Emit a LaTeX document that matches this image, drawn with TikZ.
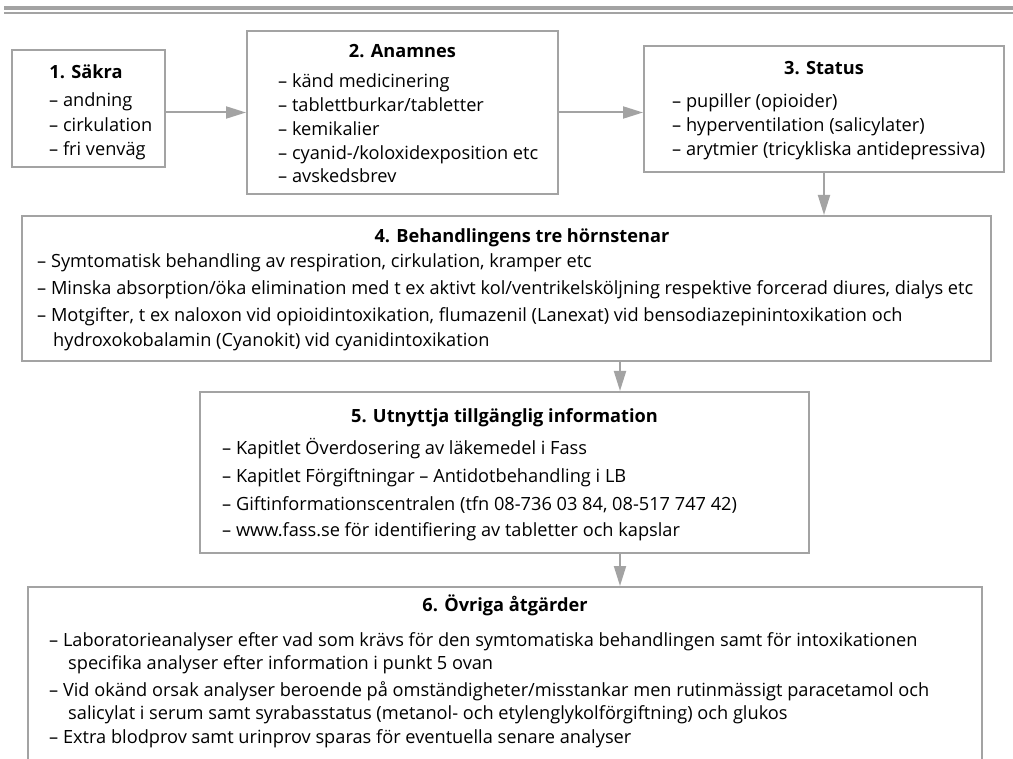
\documentclass[tikz,border=0pt]{standalone}
\usepackage{fontspec}
\setmainfont{Open Sans}
\usetikzlibrary{arrows.meta}
\definecolor{lg}{RGB}{163,163,163}
\newcommand{\fs}{\fontsize{18.2}{24}\selectfont}
\begin{document}
\begin{tikzpicture}[x=1pt,y=-1pt,
  box/.style={draw=lg, line width=2pt, inner sep=0pt, rectangle},
  arr/.style={draw=lg, line width=2pt, -{Triangle[length=20pt,width=12pt]}},
  txt/.style={anchor=base west, inner sep=0pt, font=\fs},
  ttl/.style={anchor=base, inner sep=0pt, font=\fs\bfseries}]
\clip (0,0) rectangle (1013,759);
% top rules
\fill[lg] (4,6) rectangle (1013,10);
\fill[lg] (4,12) rectangle (1013,14);
% boxes
\node[box, minimum width=153pt, minimum height=117pt] (b1) at (88.5,108.5) {};
\node[box, minimum width=311pt, minimum height=163pt] (b2) at (402.5,112.5) {};
\node[box, minimum width=360pt, minimum height=126pt] (b3) at (824,109) {};
\node[box, minimum width=969pt, minimum height=145pt] (b4) at (506.5,288.5) {};
\node[box, minimum width=609pt, minimum height=161pt] (b5) at (504.5,472.5) {};
\node[box, minimum width=954pt, minimum height=220pt] (b6) at (505,697) {};
% arrows
\coordinate (ax) at (620,0);
\draw[arr] (b1.east |- b2.west) -- (b2.west);
\draw[arr] (b2.east) -- (b2.east -| b3.west);
\draw[arr] (b3.south) -- (b3.south |- b4.north);
\draw[arr] (b4.south -| ax) -- (b5.north -| ax);
\draw[arr] (b5.south -| ax) -- (b6.north -| ax);
% box 1
\node[ttl] (t1) at (86,79) {1. Säkra};
\node[txt] (t1a) at (49,107) {– andning};
\node[txt] (t1b) at (49,131.5) {– cirkulation};
\node[txt] (t1c) at (49,156) {– fri venväg};
% box 2
\node[ttl] (t2) at (402.5,58) {2. Anamnes};
\node[txt] (t2a) at (278,88) {– känd medicinering};
\node[txt] (t2b) at (278,112) {– tablettburkar/tabletter};
\node[txt] (t2c) at (278,136) {– kemikalier};
\node[txt] (t2d) at (278,160) {– cyanid-/koloxidexposition etc};
\node[txt] (t2e) at (278,183) {– avskedsbrev};
% box 3
\node[ttl] (t3) at (824,75) {3. Status};
\node[txt] (t3a) at (672,108) {– pupiller (opioider)};
\node[txt] (t3b) at (672,132) {– hyperventilation (salicylater)};
\node[txt] (t3c) at (672,156) {– arytmier (tricykliska antidepressiva)};
% box 4
\node[ttl] (t4) at (522,243) {4. Behandlingens tre hörnstenar};
\node[txt] (t4a) at (37,268) {– Symtomatisk behandling av respiration, cirkulation, kramper etc};
\node[txt] (t4b) at (37,294.5) {– Minska absorption/öka elimination med t ex aktivt kol/ventrikelsköljning respektive forcerad diures, dialys etc};
\node[txt] (t4c) at (37,321.5) {– Motgifter, t ex naloxon vid opioidintoxikation, flumazenil (Lanexat) vid bensodiazepinintoxikation och};
\node[txt] (t4d) at (53,346.5) {hydroxokobalamin (Cyanokit) vid cyanidintoxikation};
% box 5
\node[ttl] (t5) at (504.5,422.5) {5. Utnyttja tillgänglig information};
\node[txt] (t5a) at (222,455) {– Kapitlet Överdosering av läkemedel i Fass};
\node[txt] (t5b) at (222,482.5) {– Kapitlet Förgiftningar – Antidotbehandling i LB};
\node[txt] (t5c) at (222,510) {– Giftinformationscentralen (tfn 08-736 03 84, 08-517 747 42)};
\node[txt] (t5d) at (222,536.5) {– www.fass.se för identifiering av tabletter och kapslar};
% box 6
\node[ttl] (t6) at (505,611) {6. Övriga åtgärder};
\node[txt] (t6a) at (49,646) {– Laboratorieanalyser efter vad som krävs för den symtomatiska behandlingen samt för intoxikationen};
\node[txt] (t6b) at (68,669.5) {specifika analyser efter information i punkt 5 ovan};
\node[txt] (t6c) at (49,696) {– Vid okänd orsak analyser beroende på omständigheter/misstankar men rutinmässigt paracetamol och};
\node[txt] (t6d) at (68,719.5) {salicylat i serum samt syrabasstatus (metanol- och etylenglykolförgiftning) och glukos};
\node[txt] (t6e) at (49,743.5) {– Extra blodprov samt urinprov sparas för eventuella senare analyser};
\end{tikzpicture}
\end{document}
